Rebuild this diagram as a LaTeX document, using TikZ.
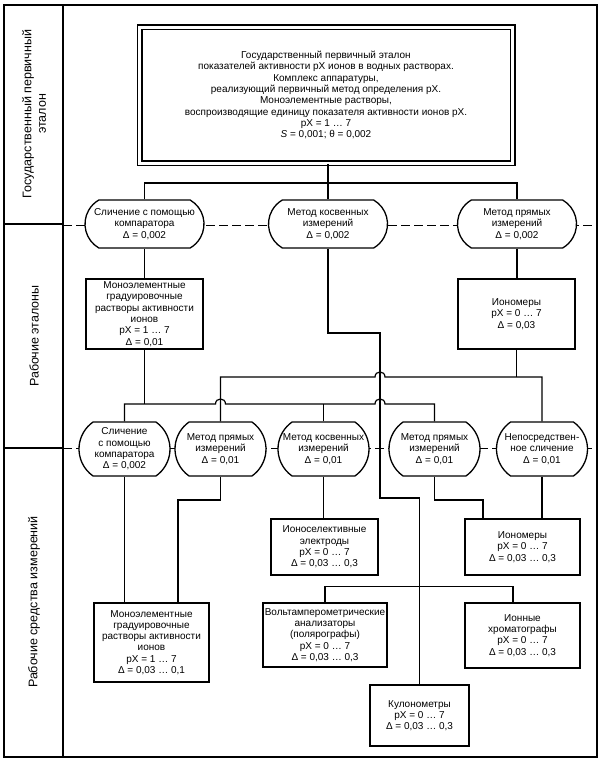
\documentclass[tikz,border=0pt]{standalone}
\usepackage{fontspec}
\setmainfont{Liberation Sans}
\usetikzlibrary{calc,shapes.misc}
\begin{document}
\begin{tikzpicture}[x=1pt,y=-1pt,
  every node/.style={font=\fontsize{10}{11.3}\selectfont, align=center, inner sep=0pt},
  box/.style={draw, fill=white, line width=1.3pt},
  ovalA/.style={draw, fill=white, line width=1.3pt, rounded rectangle, rounded rectangle arc length=120, minimum width=119, minimum height=48},
  ovalB/.style={draw, fill=white, line width=1.3pt, rounded rectangle, rounded rectangle arc length=110, minimum width=91, minimum height=54},
  conn/.style={line width=1.2pt},
  sepline/.style={line width=1pt, dash pattern=on 9pt off 4pt},
  side/.style={rotate=90, font=\fontsize{12.5}{14.5}\selectfont}]
\useasboundingbox (0,0) rectangle (605,764);
% frame and columns
\draw[line width=1.6pt] (4,5) rectangle (597,757);
\draw[line width=1.3pt] (63,5) -- (63,757);
\draw[line width=1.1pt] (4,224) -- (63,224);
\draw[line width=1.1pt] (4,448) -- (63,448);
\draw[sepline] (63,225) -- (597,225);
\draw[sepline] (63,448) -- (597,448);
% side labels
\node[side] (lab1) at (34,114) {Государственный первичный\\эталон};
\node[side] (lab2) at (34,336) {Рабочие эталоны};
\node[side] (lab3) at (34,602) {Рабочие средства измерений};
% primary standard
\node[draw, double, double distance=3pt, line width=1.5pt, fill=white, minimum width=373, minimum height=136] (top) at (326,95)
 {Государственный первичный эталон\\показателей активности pX ионов в водных растворах.\\Комплекс аппаратуры,\\реализующий первичный метод определения pX.\\Моноэлементные растворы,\\воспроизводящие единицу показателя активности ионов pX.\\pX = 1 … 7\\\textit{S} = 0,001; θ = 0,002};
% row 1
\node[ovalA] (r1a) at (144.5,224) {Сличение с помощью\\компаратора\\Δ = 0,002};
\node[ovalA] (r1b) at (328,224) {Метод косвенных\\измерений\\Δ = 0,002};
\node[ovalA] (r1c) at (517,224) {Метод прямых\\измерений\\Δ = 0,002};
% row 2
\node[box, minimum width=117, minimum height=70] (m1) at (144.5,314) {Моноэлементные\\градуировочные\\растворы активности\\ионов\\pX = 1 … 7\\Δ = 0,01};
\node[box, minimum width=117, minimum height=70] (i1) at (516.5,314) {Иономеры\\pX = 0 … 7\\Δ = 0,03};
% row 3
\node[ovalB] (a1) at (124.5,449) {Сличение\\с помощью\\компаратора\\Δ = 0,002};
\node[ovalB] (a2) at (220.5,449) {Метод прямых\\измерений\\Δ = 0,01};
\node[ovalB] (a3) at (323.5,449) {Метод косвенных\\измерений\\Δ = 0,01};
\node[ovalB] (a4) at (434.5,449) {Метод прямых\\измерений\\Δ = 0,01};
\node[ovalB] (a5) at (542,449) {Непосредствен-\\ное сличение\\Δ = 0,01};
% bottom boxes
\node[box, minimum width=115, minimum height=79] (b1) at (151.5,642.5) {Моноэлементные\\градуировочные\\растворы активности\\ионов\\pX = 1 … 7\\Δ = 0,03 … 0,1};
\node[box, minimum width=107, minimum height=56] (b2) at (324.5,547) {Ионоселективные\\электроды\\pX = 0 … 7\\Δ = 0,03 … 0,3};
\node[box, minimum width=115, minimum height=56] (b3) at (522.5,547) {Иономеры\\pX = 0 … 7\\Δ = 0,03 … 0,3};
\node[box, minimum width=124, minimum height=64] (b4) at (325,635) {Вольтамперометрические\\анализаторы\\(полярографы)\\pX = 0 … 7\\Δ = 0,03 … 0,3};
\node[box, minimum width=115, minimum height=65] (b5) at (522.5,635.5) {Ионные\\хроматографы\\pX = 0 … 7\\Δ = 0,03 … 0,3};
\node[box, minimum width=99, minimum height=61] (b6) at (419.5,715.5) {Кулонометры\\pX = 0 … 7\\Δ = 0,03 … 0,3};
% coordinates
\coordinate (bus0) at (0,183);
\coordinate (yA) at (0,377);
\coordinate (yB) at (0,404);
\coordinate (yC) at (0,500);
\coordinate (k1) at (380,333);
\coordinate (k2) at (380,498);
\coordinate (b1in) at ($(b1.north)+(26.5,0)$);
\coordinate (b3in) at ($(b3.north)+(-39.5,0)$);
\coordinate (b5in) at ($(b5.north)+(-9.5,0)$);
\coordinate (jD1) at ($(b4.north)+(0,-16)$);
\coordinate (jD2) at ($(b5in)+(0,-16)$);
% connectors top
\draw[conn] (top.south -| r1b.north) -- (r1b.north);
\draw[conn] (r1a.north) |- (r1b.north |- bus0) -| (r1c.north);
\draw[conn] (r1a.south) -- (m1.north);
\draw[conn] (r1c.south) -- (r1c.south |- i1.north);
% middle long path
\draw[conn] (r1b.south) |- (k1) -- (k2) -| (b6.north);
% line A
\draw[conn] (a2.north) -- (a2.north |- yA) -- (375,377) .. controls (375,370.3) and (385,370.3) .. (385,377) -| (a5.north);
\draw[conn] (i1.south) -- (i1.south |- yA);
% line B
\draw[conn] (a1.north) -- (a1.north |- yB) -- (215.5,404) .. controls (215.5,397.3) and (225.5,397.3) .. (225.5,404) -- (375,404) .. controls (375,397.3) and (385,397.3) .. (385,404) -| (a4.north);
\draw[conn] (m1.south) -- (m1.south |- yB);
\draw[conn] (a3.north) -- (a3.north |- yB);
% bottom connectors
\draw[conn] (a1.south) -- (a1.south |- b1.north);
\draw[conn] (a2.south) -- (a2.south |- yC) -| (b1in);
\draw[conn] (a3.south) -- (a3.south |- b2.north);
\draw[conn] (a4.south) -- (a4.south |- yC) -| (b3in);
\draw[conn] (a5.south) -- (a5.south |- b3.north);
\draw[conn] (b4.north) -- (jD1) -- (jD2) -- (b5in);
\end{tikzpicture}
\end{document}
